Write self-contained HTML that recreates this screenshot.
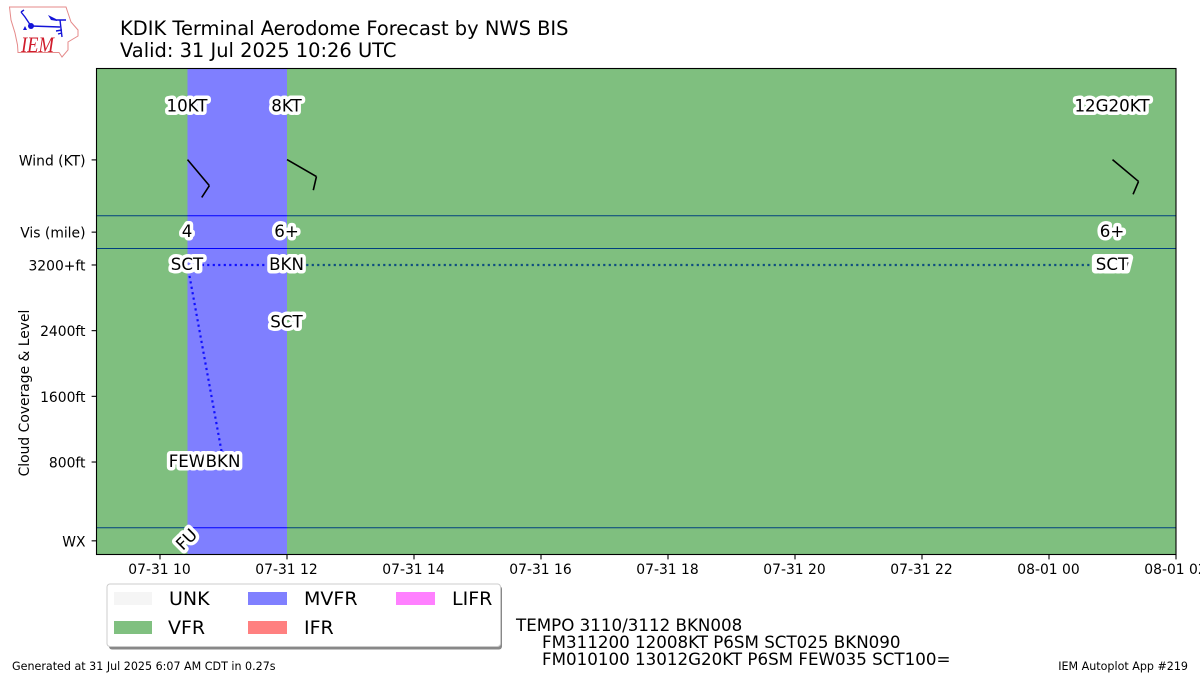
<!DOCTYPE html>
<html>
<head>
<meta charset="utf-8">
<title>KDIK Terminal Aerodome Forecast</title>
<style>
html,body{margin:0;padding:0;background:#fff;width:1200px;height:675px;overflow:hidden}
svg{display:block}
text{font-family:"DejaVu Sans","Liberation Sans",sans-serif;fill:#000}
.halo{paint-order:stroke;stroke:#fff;stroke-width:7px;stroke-linejoin:round;font-size:16.67px;text-anchor:middle}
.tick{font-size:13.89px}
.leg{font-size:19px}
.taf{font-size:16.7px}
.foot{font-size:11.11px}
</style>
</head>
<body>
<svg id="chart" xmlns="http://www.w3.org/2000/svg" width="1200" height="675" viewBox="0 0 1200 675">
  <g>
    <path d="M9.5 7H66L68 13L71 22L78 30L78 36L68 42L68 50L62 57L59 52.5H18L17.5 45L15 33L11 20Z" fill="#fff" stroke="#e58a8a" stroke-width="1"/>
    <path d="M31 26L60 27M21 12L25 17L31 26M21 12L24 10M60 20L62 37M56 31L62 30M58 34L62 33M56 20H66" fill="none" stroke="#1414d8" stroke-width="1.4"/>
    <path d="M48 15L56 19L57 21L51 20Z M25 26L27 30H23Z" fill="#1414d8"/>
    <circle cx="31" cy="26" r="3" fill="#1414d8"/>
    <text x="21" y="52" textLength="33" lengthAdjust="spacingAndGlyphs" style="font-family:'Liberation Serif',serif;font-style:italic;font-size:22px;fill:#d01c2c">IEM</text>
  </g>
  <text x="120" y="35" style="font-size:19.44px">KDIK Terminal Aerodome Forecast by NWS BIS</text>
  <text x="120" y="57" style="font-size:19.44px">Valid: 31 Jul 2025 10:26 UTC</text>
  <clipPath id="plot-clip"><rect x="96.5" y="68.5" width="1080" height="486"/></clipPath>
  <g id="under" clip-path="url(#plot-clip)"></g>
  <g id="bands" clip-path="url(#plot-clip)"></g>
  <g id="marks"></g>
  <rect x="96.5" y="68.5" width="1079.5" height="486" fill="none" stroke="#000" stroke-width="1.1"/>
  <g id="xaxis"></g>
  <g id="yaxis"></g>
  <text class="tick" transform="translate(29,393) rotate(-90)" text-anchor="middle">Cloud Coverage &amp; Level</text>

  <g>
    <rect x="109" y="586" width="393" height="63.5" rx="3" fill="#888"/>
    <rect x="107" y="584" width="393.5" height="62.5" rx="3" fill="#fff" stroke="#ccc" stroke-width="1"/>
    <g><rect x="114" y="592" width="38" height="13" fill="#f5f5f5"/><text class="leg" x="169" y="605">UNK</text></g>
    <g><rect x="114" y="621" width="38" height="13" fill="#80c080"/><text class="leg" x="168" y="634">VFR</text></g>
    <g><rect x="248" y="592" width="39" height="13" fill="#8080ff"/><text class="leg" x="304" y="605">MVFR</text></g>
    <g><rect x="248" y="621" width="39" height="13" fill="#ff8080"/><text class="leg" x="304" y="634">IFR</text></g>
    <g><rect x="396" y="592" width="39" height="13" fill="#ff80ff"/><text class="leg" x="452" y="605">LIFR</text></g>
  </g>
  <g>
    <text class="taf" x="516" y="631">TEMPO 3110/3112 BKN008</text>
    <text class="taf" x="542" y="648">FM311200 12008KT P6SM SCT025 BKN090</text>
    <text class="taf" x="542" y="665">FM010100 13012G20KT P6SM FEW035 SCT100=</text>
  </g>
  <text class="foot" x="12" y="670">Generated at 31 Jul 2025 6:07 AM CDT in 0.27s</text>
  <text class="foot" x="1188" y="670" text-anchor="end">IEM Autoplot App #219</text>
</svg>
<script>
// Hours are counted from 07-31 00:00 UTC.
var xTickHours = [10, 12, 14, 16, 18, 20, 22, 24, 26];
var xTickLabels = ["07-31 10", "07-31 12", "07-31 14", "07-31 16", "07-31 18", "07-31 20", "07-31 22", "08-01 00", "08-01 02"];
var yTickValues = [4480, 3600, 3200, 2400, 1600, 800, -160];
var yTickLabels = ["Wind (KT)", "Vis (mile)", "3200+ft", "2400ft", "1600ft", "800ft", "WX"];
var dividerLevels = [3800, 3400, 0];
var bandStarts = [9, 10.433, 12];
var bandEnds = [10.433, 12, 26];
var bandCategories = ["VFR", "MVFR", "VFR"];
var forecastHours = [10.433, 12, 25];
var windLabels = ["10KT", "8KT", "12G20KT"];
var windDirections = [140, 120, 130];
var windSpeeds = [10, 8, 12];
var visLabels = ["4", "6+", "6+"];
var cloudHours = [10.433, 10.433, 11, 12, 12, 25, 25];
var cloudLevels = [3200, 800, 800, 3200, 2500, 3200, 3200];
var cloudLabels = ["SCT", "FEW", "BKN", "BKN", "SCT", "FEW", "SCT"];
var ceilingHours = [11, 10.433, 12, 25];
var ceilingLevels = [800, 3200, 3200, 3200];
var weatherHours = [10.433];
var weatherLabels = ["FU"];

var NS = "http://www.w3.org/2000/svg";
function x(h) { return 160 + (h - 10) * 63.5; }
function y(v) { return 527.7 - v * 0.0821; }
function make(tag, parent, attrs, txt) {
  var e = document.createElementNS(NS, tag);
  for (var k in attrs) { e.setAttribute(k, attrs[k]); }
  if (txt !== undefined) { e.textContent = txt; }
  parent.appendChild(e);
  return e;
}
var under = document.getElementById("under");
var bands = document.getElementById("bands");
var marks = document.getElementById("marks");
var xaxis = document.getElementById("xaxis");
var yaxis = document.getElementById("yaxis");

var bandColors = { UNK: "#f5f5f5", VFR: "#008000", MVFR: "#0000ff", IFR: "#ff0000", LIFR: "#ff00ff" };

dividerLevels.forEach(function (v) {
  var l = make("line", under, { x1: 96, x2: 1177, y1: y(v), y2: y(v), stroke: "#0000ff", "stroke-width": 1 });
  
  
});

var ceilingPoints = ceilingHours.map(function (h, i) { return x(h) + "," + y(ceilingLevels[i]); }).join(" ");
var ceiling = make("polyline", under, { points: ceilingPoints, fill: "none", stroke: "#0000ff", "stroke-opacity": 0.88, "stroke-width": 2.2, "stroke-linecap": "butt", "stroke-dasharray": "2.2 3.3" });



bandStarts.forEach(function (s, i) {
  var r = make("rect", bands, { x: x(s), y: 68, width: x(bandEnds[i]) - x(s), height: 487, fill: bandColors[bandCategories[i]], "fill-opacity": 0.5 });
  
  
});

function label(hour, level, str, name) {
  var t = make("text", marks, { "class": "halo", x: x(hour) - 0.5, y: y(level) + 5.8 }, str);
  
  
  return t;
}

function barb(hour, level, dir, speed) {
  var rad = dir * Math.PI / 180;
  var ux = Math.sin(rad), uy = -Math.cos(rad);
  var x0 = x(hour), y0 = y(level) - 0.3;
  var tipX = x0 + ux * 34, tipY = y0 + uy * 34;
  var rounded = Math.round(speed / 5) * 5;
  var full = Math.floor(rounded / 10);
  var half = (rounded % 10) >= 5 ? 1 : 0;
  var ang = 73 * Math.PI / 180;
  var bx = ux * Math.cos(ang) - uy * Math.sin(ang);
  var by = ux * Math.sin(ang) + uy * Math.cos(ang);
  var d = "M" + x0 + " " + y0 + "L" + tipX + " " + tipY;
  var pos = 0;
  for (var i = 0; i < full; i++) {
    var px = tipX - ux * pos, py = tipY - uy * pos;
    d += "M" + px + " " + py + "l" + bx * 14 + " " + by * 14;
    pos += 6;
  }
  if (half) {
    var qx = tipX - ux * pos, qy = tipY - uy * pos;
    d += "M" + qx + " " + qy + "l" + bx * 7 + " " + by * 7;
  }
  var p = make("path", marks, { d: d, fill: "none", stroke: "#000", "stroke-width": 1.6, "stroke-linejoin": "miter" });
  
  
}

forecastHours.forEach(function (h, i) {
  barb(h, 4480, windDirections[i], windSpeeds[i]);
  label(h, 5140, windLabels[i], 'wind-label');
  label(h, 3610, visLabels[i], 'visibility-label');
});

cloudHours.forEach(function (h, i) {
  label(h, cloudLevels[i] + 12, cloudLabels[i], 'cloud-label');
});

weatherHours.forEach(function (h, i) {
  var cx = x(h) - 1, cy = y(-160) - 1.5;
  var t = make("text", marks, { "class": "halo", x: cx, y: cy + 5.8, transform: "rotate(-45 " + cx + " " + cy + ")" }, weatherLabels[i]);
  
  
});

xTickHours.forEach(function (h, i) {
  var tk = make("line", xaxis, { x1: x(h), x2: x(h), y1: 554.5, y2: 559.4, stroke: "#000", "stroke-width": 1.1 });
  
  
  var t = make("text", xaxis, { "class": "tick", x: x(h) - 0.5, y: 574, "text-anchor": "middle" }, xTickLabels[i]);
  
  
});

yTickValues.forEach(function (v, i) {
  var tk = make("line", yaxis, { x1: 91.6, x2: 96.5, y1: y(v), y2: y(v), stroke: "#000", "stroke-width": 1.1 });
  
  
  var t = make("text", yaxis, { "class": "tick", x: 85.5, y: y(v) + 5.5, "text-anchor": "end" }, yTickLabels[i]);
  
  
});
</script>
</body>
</html>
